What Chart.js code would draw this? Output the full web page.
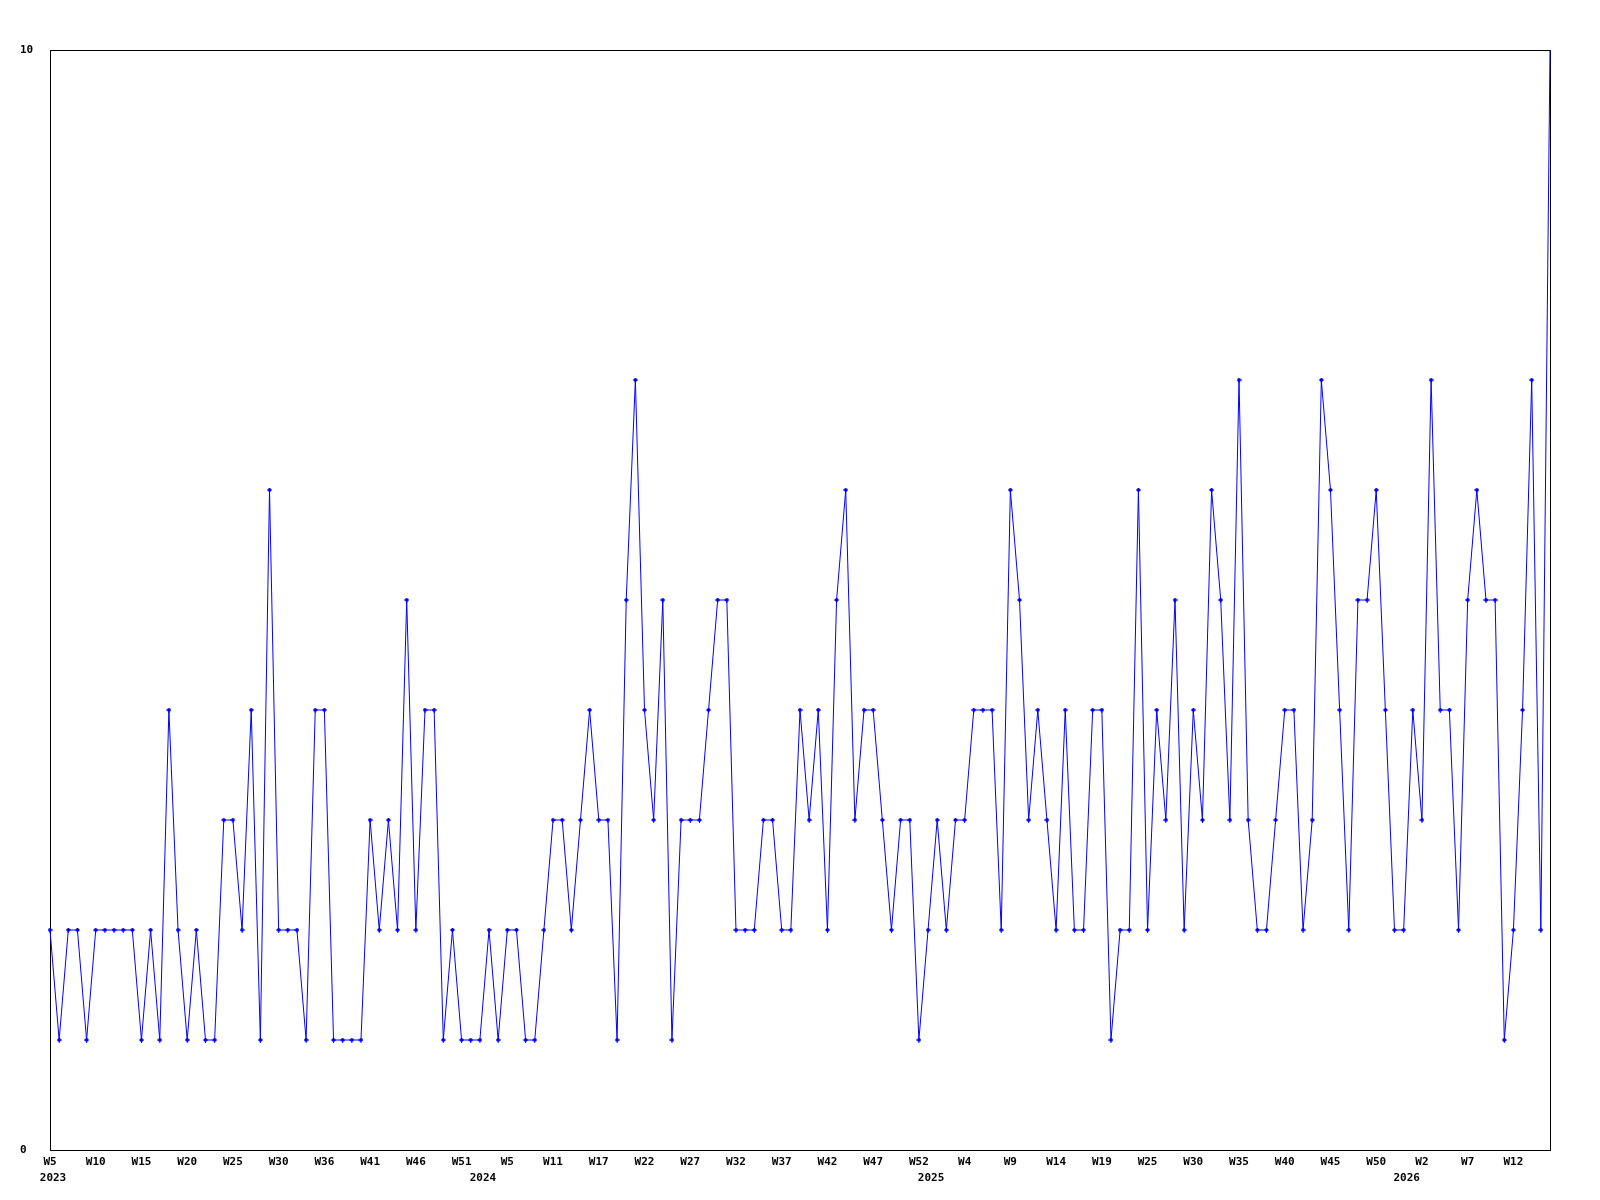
<!DOCTYPE html>
<html><head><meta charset="utf-8">
<script src="https://cdn.jsdelivr.net/npm/chart.js@4/dist/chart.umd.min.js"></script>
<style>html,body{margin:0;padding:0;background:#fff}canvas{display:block}</style>
</head><body>
<canvas id="c" width="1600" height="1200"></canvas>
<script>
const values = [
  2,1,2,2,1,2,2,2,2,2,1,2,1,4,2,1,2,1,1,3,3,
  2,4,1,6,2,2,2,1,4,4,1,1,1,1,3,2,3,2,5,2,4,
  4,1,2,1,1,1,2,1,2,2,1,1,2,3,3,2,3,4,3,3,1,
  5,7,4,3,5,1,3,3,3,4,5,5,2,2,2,3,3,2,2,4,3,
  4,2,5,6,3,4,4,3,2,3,3,1,2,3,2,3,3,4,4,4,
  2,6,5,3,4,3,2,4,2,2,4,4,1,2,2,6,2,4,3,5,2,
  4,3,6,5,3,7,3,2,2,3,4,4,2,3,7,6,4,2,5,5,6,
  4,2,2,4,3,7,4,4,2,5,6,5,5,1,2,4,7,2,10
];
const tickLabels = ['W5','W10','W15','W20','W25','W30','W36','W41','W46','W51',
  'W5','W11','W17','W22','W27','W32','W37','W42','W47','W52',
  'W4','W9','W14','W19','W25','W30','W35','W40','W45','W50',
  'W2','W7','W12'];
const tickEvery = 5;
const yearLabels = ['2023','2024','2025','2026'];
const yearIndex = [0,47,96,148];
const yMin = 0, yMax = 10;

const weekLabels = values.map((v,i) => (i % tickEvery === 0 && tickLabels[i/tickEvery]) ? tickLabels[i/tickEvery] : '');
const yearRow = values.map((v,i) => { const k = yearIndex.indexOf(i); return k >= 0 ? yearLabels[k] : ''; });

const mk = document.createElement('canvas');
mk.width = 5; mk.height = 5;
const g = mk.getContext('2d');
g.fillStyle = '#0000ff';
g.fillRect(2,0,1,5); g.fillRect(0,2,5,1); g.fillRect(1,1,3,3);

Chart.defaults.font.family = "'DejaVu Sans Mono', 'Liberation Mono', monospace";
Chart.defaults.font.size = 11;
Chart.defaults.font.weight = 'bold';
Chart.defaults.color = '#000';

const boxPlugin = {
  id: 'box',
  beforeDatasetsDraw(chart) {
    const a = chart.chartArea, ctx = chart.ctx;
    ctx.save();
    ctx.strokeStyle = '#000';
    ctx.lineWidth = 1;
    ctx.strokeRect(a.left + 0.5, a.top + 0.5, a.right - a.left, a.bottom - a.top);
    ctx.restore();
  }
};

new Chart(document.getElementById('c'), {
  type: 'line',
  data: {
    labels: weekLabels,
    datasets: [{
      data: values,
      borderColor: '#0000ff',
      backgroundColor: '#0000ff',
      borderWidth: 1,
      tension: 0,
      pointStyle: mk,
      pointRadius: ctx => ctx.dataIndex === values.length - 1 ? 0 : 3,
      pointHoverRadius: 3
    }]
  },
  options: {
    responsive: false,
    animation: false,
    events: [],
    layout: { padding: { left: 20, top: 50, right: 50, bottom: 0 } },
    plugins: { legend: { display: false }, tooltip: { enabled: false } },
    scales: {
      x: {
        type: 'category',
        offset: false,
        grid: { display: false, drawTicks: false },
        border: { display: false },
        ticks: { autoSkip: false, maxRotation: 0, minRotation: 0, padding: 6,
          callback(v) { return this.getLabelForValue(v); } },
        afterFit(s) { s.height = 16; }
      },
      x2: {
        type: 'category',
        position: 'bottom',
        labels: yearRow,
        offset: false,
        grid: { display: false, drawTicks: false },
        border: { display: false },
        ticks: { autoSkip: false, maxRotation: 0, minRotation: 0, padding: 6, labelOffset: 3,
          callback(v) { return this.getLabelForValue(v); } },
        afterFit(s) { s.height = 34; }
      },
      y: {
        min: yMin, max: yMax,
        grid: { display: false, drawTicks: false },
        border: { display: false },
        ticks: { stepSize: yMax - yMin, crossAlign: 'far', padding: 0 },
        afterFit(s) { s.width = 30; }
      }
    }
  },
  plugins: [boxPlugin]
});
</script>
</body></html>
